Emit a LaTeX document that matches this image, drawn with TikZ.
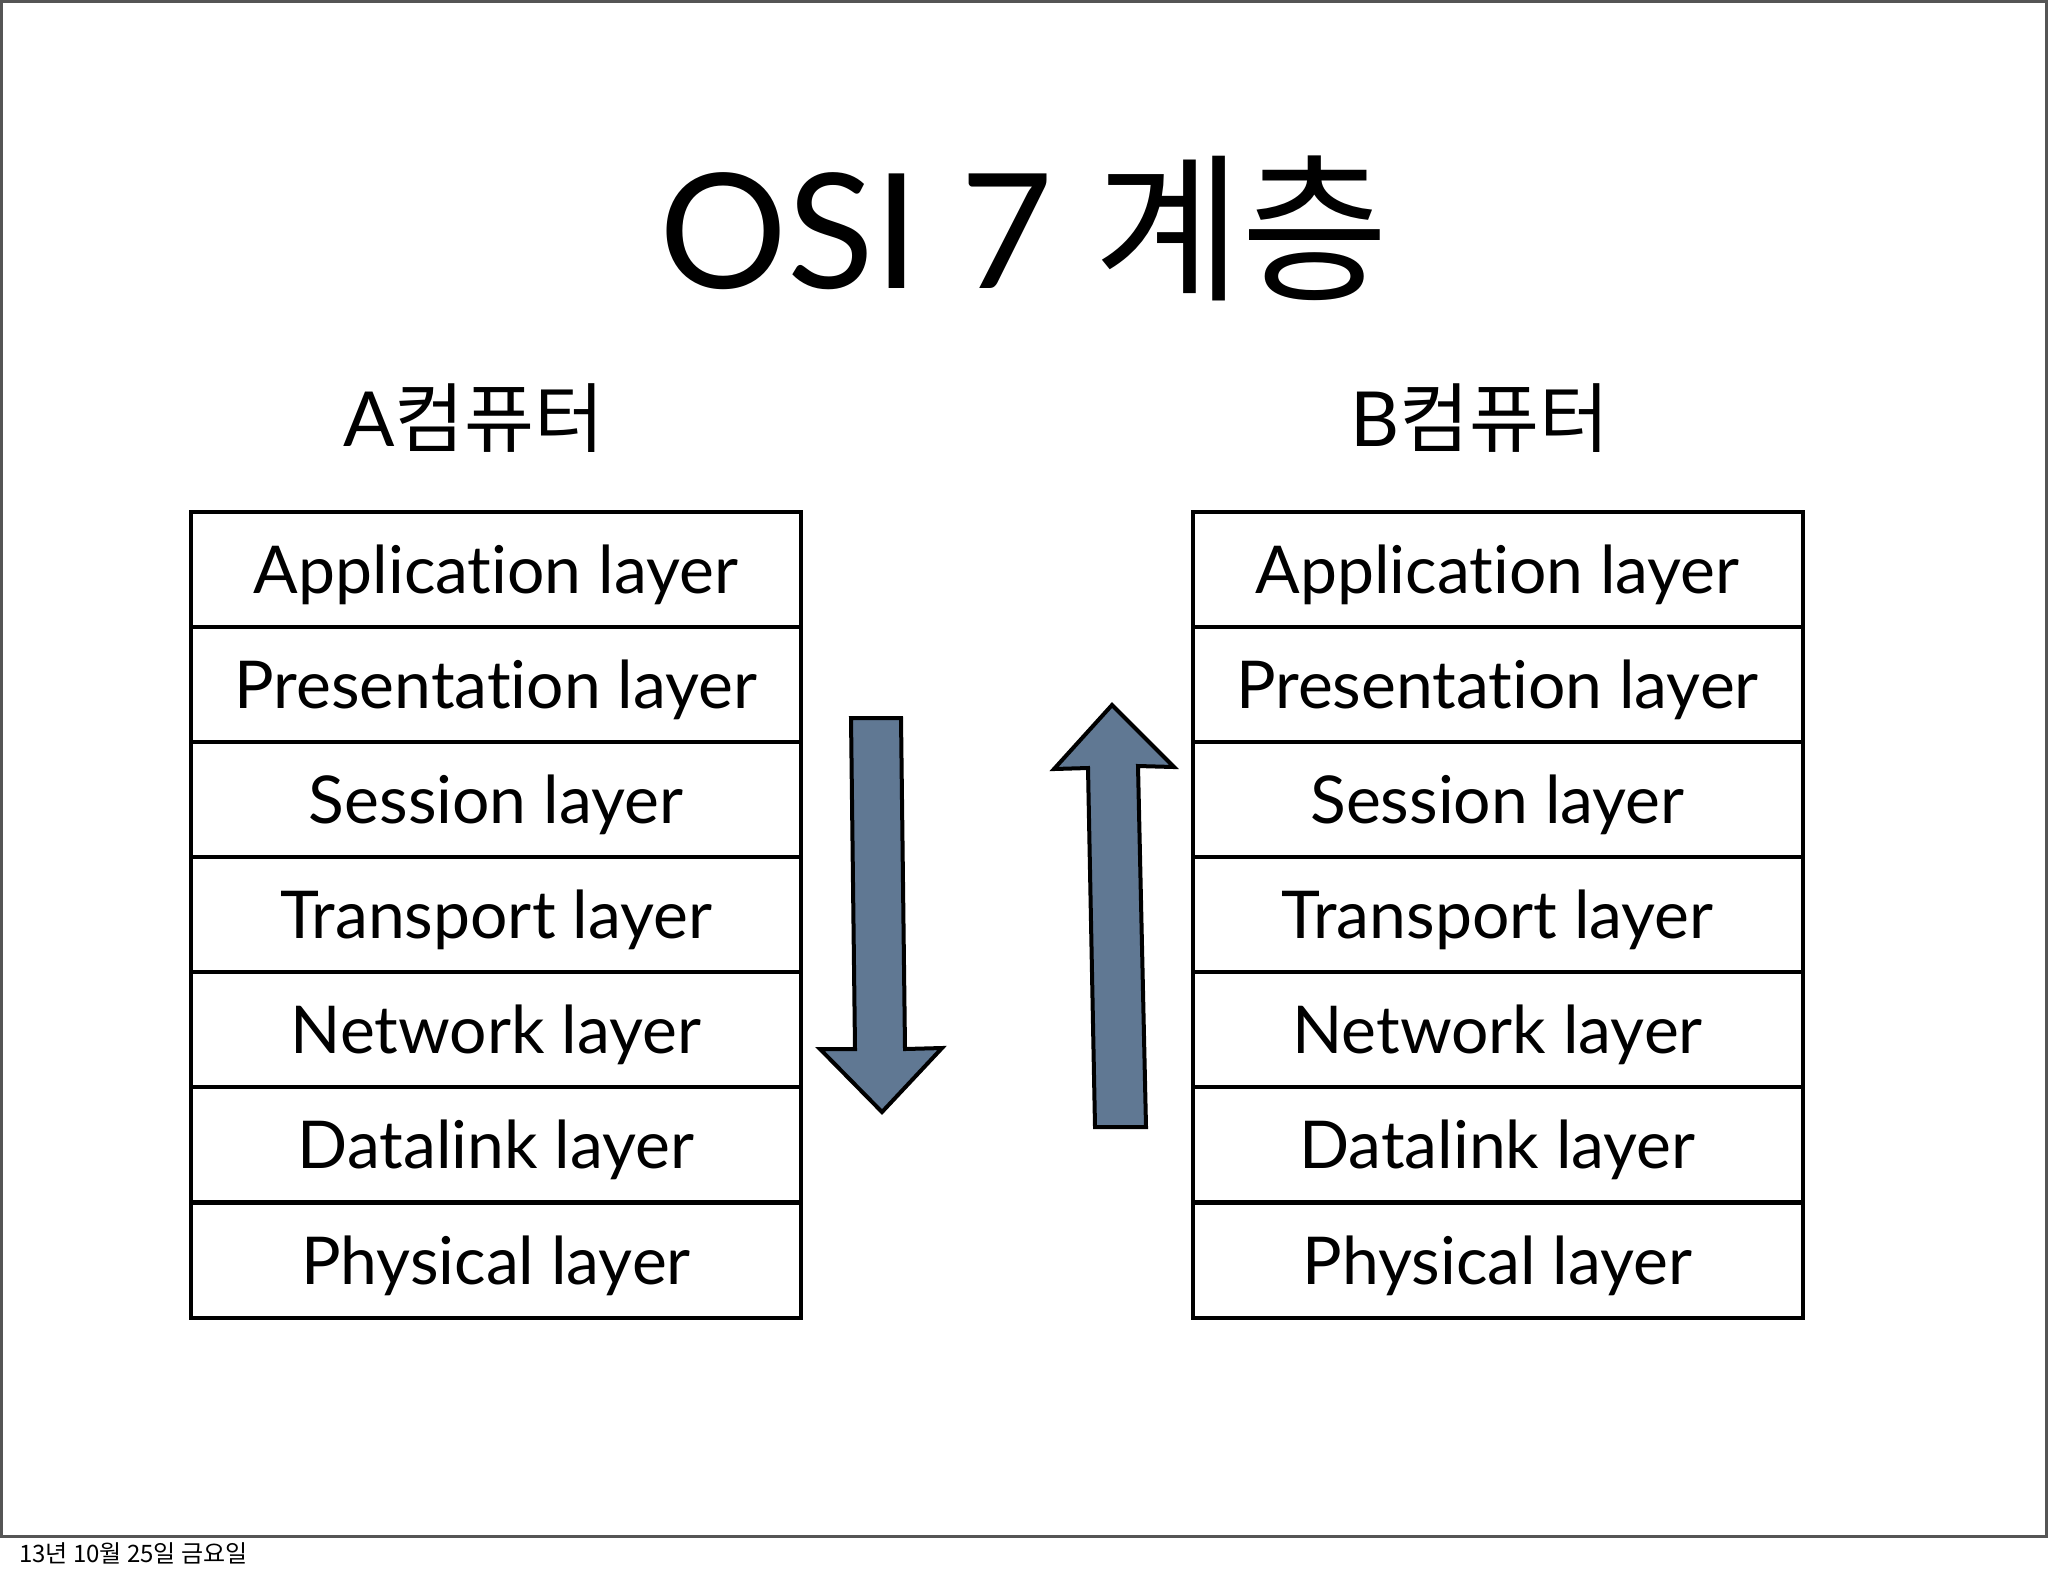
\documentclass[tikz,border=0pt]{standalone}
\usepackage{fontspec}
\setmainfont{Lato}[Ligatures=NoCommon]
\newfontfamily\kr{Noto Sans CJK KR}
\definecolor{arrowfill}{HTML}{607893}
\definecolor{framegray}{HTML}{555555}
\tikzset{layer/.style={draw,line width=2pt,minimum width=305pt,minimum height=57.5pt,inner sep=0pt,text height=24pt,text depth=0pt,font=\fontsize{33}{40}\selectfont}}
\tikzset{pc/.style={font=\fontsize{38}{44}\selectfont}}
\tikzset{bigarrow/.style={draw,line width=2pt,fill=arrowfill,line join=miter}}

\begin{document}
\begin{tikzpicture}[x=0.5pt,y=-0.5pt]
    \useasboundingbox (0,0) rectangle (2048,1576);
    \draw[framegray,line width=1.5pt] (1,1) rectangle (2046,1536);
    \node[font=\fontsize{80}{90}\selectfont] (title) at (1024,228) {OSI 7 {\kr 계층}};
    \node[pc] (pcA) at (474,418) {A{\kr 컴퓨터}};
    \node[pc] (pcB) at (1480,418) {B{\kr 컴퓨터}};
    % A computer
    \node[layer] (a7) at (496,569.5) {Application layer};
    \node[layer] (a6) at (496,684.5) {Presentation layer};
    \node[layer] (a5) at (496,799.5) {Session layer};
    \node[layer] (a4) at (496,914.5) {Transport layer};
    \node[layer] (a3) at (496,1029.5) {Network layer};
    \node[layer] (a2) at (496,1144.5) {Datalink layer};
    \node[layer] (a1) at (496,1260) {Physical layer};
    % B computer
    \node[layer] (b7) at (1497.5,569.5) {Application layer};
    \node[layer] (b6) at (1497.5,684.5) {Presentation layer};
    \node[layer] (b5) at (1497.5,799.5) {Session layer};
    \node[layer] (b4) at (1497.5,914.5) {Transport layer};
    \node[layer] (b3) at (1497.5,1029.5) {Network layer};
    \node[layer] (b2) at (1497.5,1144.5) {Datalink layer};
    \node[layer] (b1) at (1497.5,1260) {Physical layer};
    % arrows
    \draw[bigarrow] (851,718) -- (901,718) -- (905,1049) -- (942,1048)
        -- (882,1112) -- (820,1049) -- (855,1049) -- cycle;
    \draw[bigarrow] (1095,1127) -- (1146,1127) -- (1138,766) -- (1174,767)
        -- (1112,705) -- (1054,769) -- (1088,768) -- cycle;
    \node[anchor=west,font=\kr\fontsize{12}{15}\selectfont] (date) at (12,1553) {13년 10월 25일 금요일};
\end{tikzpicture}
\end{document}
